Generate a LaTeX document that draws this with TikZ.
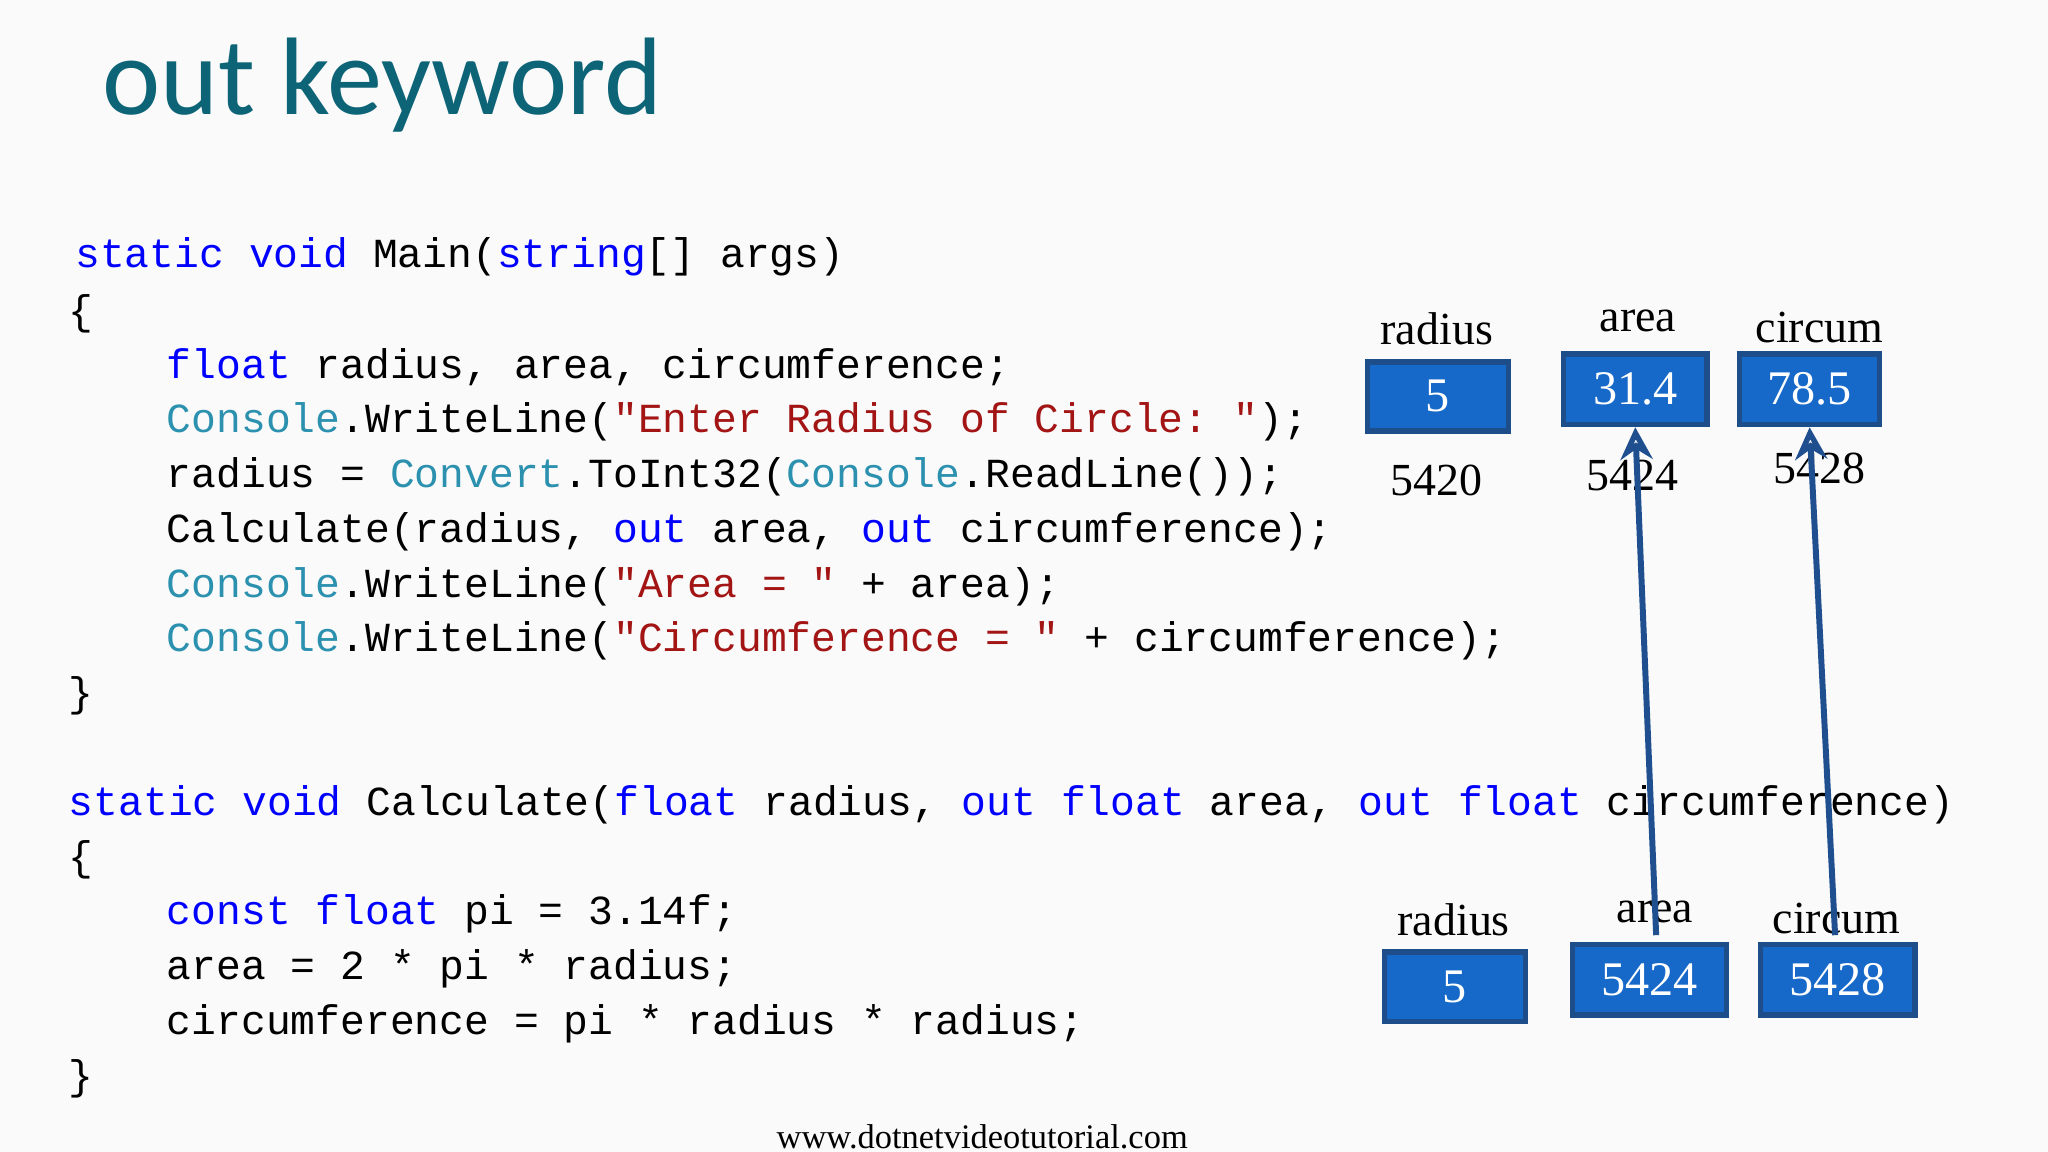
\documentclass[tikz,border=0pt]{standalone}
\usepackage{fontspec}
\setmainfont{Liberation Serif}
\setmonofont{Liberation Mono}
\newfontfamily\titlefont{Carlito}
\usetikzlibrary{arrows.meta}
\definecolor{kw}{HTML}{0000FF}
\definecolor{ty}{HTML}{2B91AF}
\definecolor{st}{HTML}{A31515}
\definecolor{ttl}{HTML}{0E6477}
\definecolor{bx}{HTML}{1769C9}
\definecolor{bxd}{HTML}{1D4E8A}
\definecolor{ar}{HTML}{1F4F8F}
\newcommand{\K}[1]{\textcolor{kw}{#1}}
\newcommand{\T}[1]{\textcolor{ty}{#1}}
\newcommand{\Sg}[1]{\textcolor{st}{#1}}
\begin{document}
\begin{tikzpicture}[x=0.01cm,y=-0.01cm,
  code/.style={anchor=west,inner sep=0,font=\ttfamily\fontsize{9.0}{10}\selectfont},
  mem/.style={draw=bxd,line width=1.2pt,fill=bx,text=white,font=\fontsize{10.5}{12}\selectfont,inner sep=0},
  lbl/.style={font=\fontsize{10}{11}\selectfont},
  addr/.style={font=\fontsize{10}{11}\selectfont},
  ptr/.style={draw=ar,line width=1.3pt,-{Stealth[length=7pt,width=7pt,open]}}]
\fill[white!96!gray] (0,0) rectangle (1568,882);
\useasboundingbox (0,0) rectangle (1568,882);
\node[anchor=west,inner sep=0,text=ttl,font=\titlefont\fontsize{24}{28}\selectfont] (title) at (78,65) {out keyword};
\node[code] (l1) at (57,197) {\K{static} \K{void} Main(\K{string}[] args)};
\node[code] (l2) at (52,240) {\{};
\node[code] (l3) at (127,281) {\K{float} radius, area, circumference;};
\node[code] (l4) at (127,323) {\T{Console}.WriteLine(\Sg{"Enter Radius of Circle:\ "});};
\node[code] (l5) at (127,365) {radius = \T{Convert}.ToInt32(\T{Console}.ReadLine());};
\node[code] (l6) at (127,407) {Calculate(radius, \K{out} area, \K{out} circumference);};
\node[code] (l7) at (127,449) {\T{Console}.WriteLine(\Sg{"Area =\ "} + area);};
\node[code] (l8) at (127,491) {\T{Console}.WriteLine(\Sg{"Circumference =\ "} + circumference);};
\node[code] (l9) at (52,533) {\}};
\node[code] (m1) at (52,616) {\K{static} \K{void} Calculate(\K{float} radius, \K{out} \K{float} area, \K{out} \K{float} circumference)};
\node[code] (m2) at (52,658) {\{};
\node[code] (m3) at (127,700) {\K{const} \K{float} pi = 3.14f;};
\node[code] (m4) at (127,742) {area = 2 * pi * radius;};
\node[code] (m5) at (127,784) {circumference = pi * radius * radius;};
\node[code] (m6) at (52,826) {\}};
% top memory
\node[lbl] (tr) at (1100,252) {radius};
\node[lbl] (ta) at (1254,246) {area};
\node[lbl] (tc) at (1393,251) {circum};
\node[mem,minimum width=1.08cm,minimum height=0.53cm] (br) at (1101,303.5) {5};
\node[mem,minimum width=1.10cm,minimum height=0.54cm] (ba) at (1252,298) {31.4};
\node[mem,minimum width=1.07cm,minimum height=0.54cm] (bc) at (1385.5,298) {78.5};
\node[addr] (ar1) at (1100,368) {5420};
\node[addr] (ar2) at (1250,364) {5424};
\node[addr] (ar3) at (1393,359) {5428};
% bottom memory
\node[lbl] (cr) at (1113,704) {radius};
\node[lbl] (ca) at (1267,698) {area};
\node[lbl] (cc) at (1406,703) {circum};
\node[mem,minimum width=1.08cm,minimum height=0.53cm] (dr) at (1114,755.5) {5};
\node[mem,minimum width=1.18cm,minimum height=0.54cm] (da) at (1263,750) {5424};
\node[mem,minimum width=1.18cm,minimum height=0.54cm] (dc) at (1407,750) {5428};
\coordinate (pa) at (1268,716);
\coordinate (pc) at (1405,716);
\draw[ptr] (pa) -- (ba.south);
\draw[ptr] (pc) -- (bc.south);
\node[font=\fontsize{7.5}{9}\selectfont] (web) at (752,870) {www.dotnetvideotutorial.com};
\end{tikzpicture}
\end{document}
